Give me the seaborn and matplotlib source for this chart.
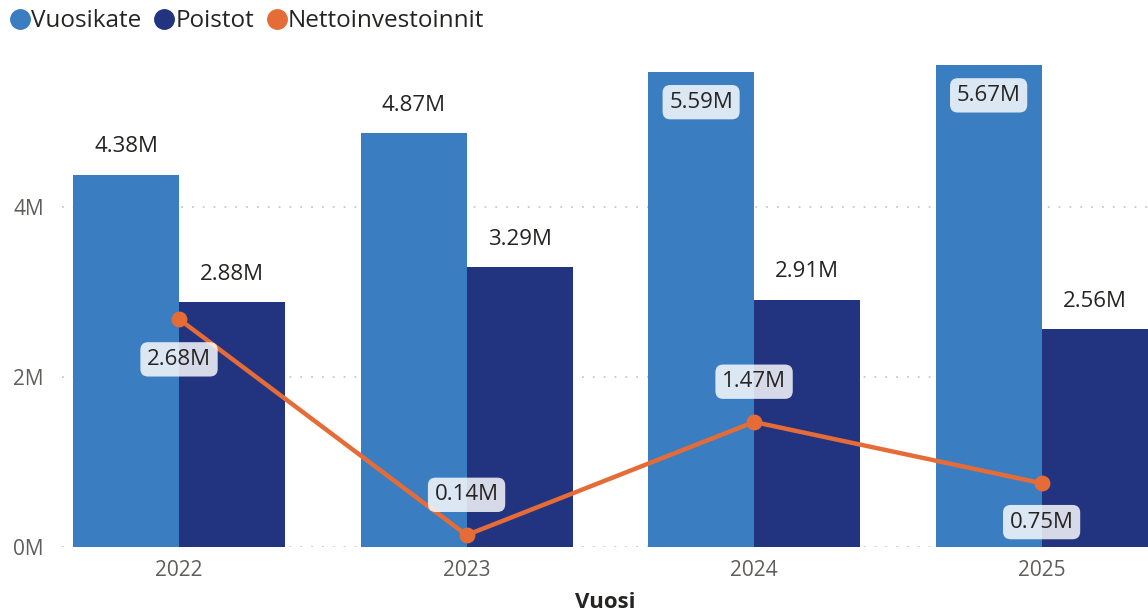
import matplotlib
matplotlib.use("Agg")
import matplotlib.pyplot as plt
import seaborn as sns
import pandas as pd
from matplotlib.lines import Line2D
from matplotlib.ticker import FuncFormatter

years = ["2022", "2023", "2024", "2025"]
vuosikate = [4.38e6, 4.87e6, 5.59e6, 5.67e6]
poistot = [2.88e6, 3.29e6, 2.91e6, 2.56e6]
netto = [2.68e6, 0.14e6, 1.47e6, 0.75e6]
series_names = ["Vuosikate", "Poistot", "Nettoinvestoinnit"]
colors = ["#3B7DC1", "#22337F", "#E66C37"]

sns.set_theme(style="white")
plt.rcParams["font.family"] = ["Open Sans", "DejaVu Sans"]

df = pd.DataFrame({
    "Vuosi": years * 2,
    "value": vuosikate + poistot,
    "series": [series_names[0]] * 4 + [series_names[1]] * 4,
})

fig = plt.figure(figsize=(11.48, 6.16), dpi=100)
ax = fig.add_axes([62 / 1148, 69 / 616, 1 - 62 / 1148, 489 / 616])

sns.barplot(data=df, x="Vuosi", y="value", hue="series", palette=colors[:2],
            width=0.737, gap=0, ax=ax, legend=False, zorder=2, saturation=1,
            linewidth=0, edgecolor="none", errorbar=None)
n_before = len(ax.lines)
sns.pointplot(x=years, y=netto, color=colors[2], ax=ax, markers="o",
              markersize=9, linewidth=3.2, zorder=4, errorbar=None)
line = ax.lines[n_before]

ax.set_ylim(0, 5.75e6)
ax.set_xlim(-0.407, 3.37)
ax.set_yticks([0, 2e6, 4e6])
ax.yaxis.set_major_formatter(FuncFormatter(lambda v, p: f"{v / 1e6:.0f}M"))
for y in [0, 2e6, 4e6]:
    ax.axhline(y, color="#C8C8C8", linestyle=(0, (1, 5)), linewidth=1.3, zorder=0)
for s in ax.spines.values():
    s.set_visible(False)
ax.tick_params(axis="both", length=0, labelsize=15, colors="#605E5C")
ax.tick_params(axis="y", pad=13)
ax.tick_params(axis="x", pad=9)
ax.set_ylabel("")
ax.set_xlabel("Vuosi", fontsize=16, fontweight="bold", color="#252423", labelpad=8)

box = dict(boxstyle="round,pad=0.3,rounding_size=0.35", facecolor="white",
           edgecolor="none", alpha=0.82)

# bar labels
for ci, cont in enumerate(ax.containers[:2]):
    for i, bar in enumerate(cont):
        h = bar.get_height()
        xc = bar.get_x() + bar.get_width() / 2
        inside = ci == 0 and h > 5.3e6
        if inside:
            ax.annotate(f"{h / 1e6:.2f}M", (xc, h), xytext=(0, -22),
                        textcoords="offset points", ha="center", va="center",
                        fontsize=16, color="#252423", bbox=box, zorder=6)
        else:
            ax.annotate(f"{h / 1e6:.2f}M", (xc, h), xytext=(0, 20),
                        textcoords="offset points", ha="center", va="center",
                        fontsize=16, color="#252423", zorder=6)

# line labels
offsets = [-29, 29, 29, -28]
xs, ys = line.get_xdata(), line.get_ydata()
for x, y, off in zip(xs, ys, offsets):
    ax.annotate(f"{y / 1e6:.2f}M", (x, y), xytext=(0, off),
                textcoords="offset points", ha="center", va="center",
                fontsize=16, color="#252423", bbox=box, zorder=6)

handles = [Line2D([], [], marker="o", linestyle="", markersize=14,
                  markerfacecolor=c, markeredgecolor=c) for c in colors]
fig.legend(handles, series_names, loc="upper left", bbox_to_anchor=(-0.009, 1.011),
           ncol=3, frameon=False, fontsize=17.5, handletextpad=-0.15,
           columnspacing=0.35, handlelength=1.2, borderaxespad=0.25,
           labelcolor="#252423")

fig.savefig("out.png", dpi=100)
